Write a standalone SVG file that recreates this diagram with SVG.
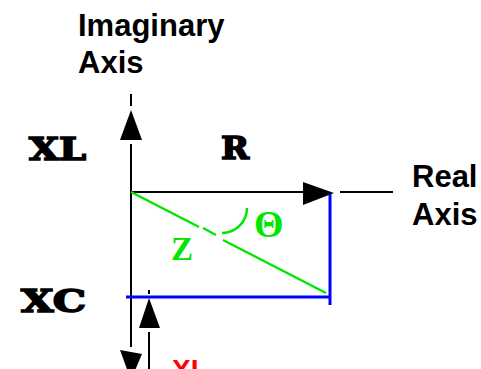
<svg xmlns="http://www.w3.org/2000/svg" width="481" height="369" viewBox="0 0 481 369">
<style>
.ax{stroke:#000;stroke-width:2;fill:none}
.ah{fill:#000}
.bl{stroke:#0000ff;stroke-width:3;fill:none}
.gr{stroke:#00e600;stroke-width:2.5;fill:none}
.lbl{font-family:"Liberation Sans",Arial,sans-serif;font-weight:bold;font-size:31px;fill:#000}
.big{font-family:"DejaVu Serif",serif;font-weight:900;font-size:31px;fill:#000;stroke:#000;stroke-width:1.6}
.gt{font-family:"Liberation Serif","Times New Roman",serif;font-weight:bold;font-size:33px;fill:#00e600}
</style>
<rect width="481" height="369" fill="#fff"/>
<g id="connectors">
  <line class="ax" x1="131" y1="94" x2="131" y2="106"/>
  <polygon class="ah" points="131,110 142,140 120,140"/>
  <line class="ax" x1="131" y1="144" x2="131" y2="347"/>
  <polygon class="ah" points="120,350 142,354 131,380"/>
  <line class="ax" x1="131" y1="192" x2="303" y2="192"/>
  <polygon class="ah" points="303,182 334,193 303,205"/>
  <line class="ax" x1="340" y1="192" x2="393" y2="192"/>
  <line class="ax" x1="149" y1="290" x2="149" y2="294"/>
  <polygon class="ah" points="149,298 160,328 139,328"/>
  <line class="ax" x1="149" y1="332" x2="149" y2="369"/>
  <line class="bl" x1="126" y1="297" x2="330" y2="297"/>
  <line class="bl" x1="330" y1="194" x2="330" y2="305"/>
  <line class="gr" x1="131" y1="192" x2="199" y2="227"/>
  <line class="gr" x1="203" y1="228" x2="216" y2="235"/>
  <line class="gr" x1="223" y1="240" x2="326" y2="293"/>
  <path class="gr" d="M247,208 A25,25 0 0 1 222,233"/>
</g>
<g id="imag-axis"><text class="lbl" x="78" y="36">Imaginary</text><text class="lbl" x="78" y="73">Axis</text></g>
<g id="real-axis"><text class="lbl" x="412" y="187">Real</text><text class="lbl" x="412" y="225">Axis</text></g>
<g id="xl"><text class="big" x="29" y="160" textLength="57" lengthAdjust="spacingAndGlyphs">XL</text></g>
<g id="r"><text class="big" x="221" y="159" textLength="28" lengthAdjust="spacingAndGlyphs">R</text></g>
<g id="xc"><text class="big" x="21" y="312" textLength="65" lengthAdjust="spacingAndGlyphs">XC</text></g>
<g id="z"><text class="gt" x="171" y="260">Z</text></g>
<g id="theta"><text class="gt" x="254" y="237" style="font-size:38px">Θ</text></g>
<g id="xl-red"><text x="172" y="379" style="font-family:'Liberation Sans',Arial,sans-serif;font-weight:bold;font-size:28px;fill:#ff0000">XL</text></g>
</svg>
